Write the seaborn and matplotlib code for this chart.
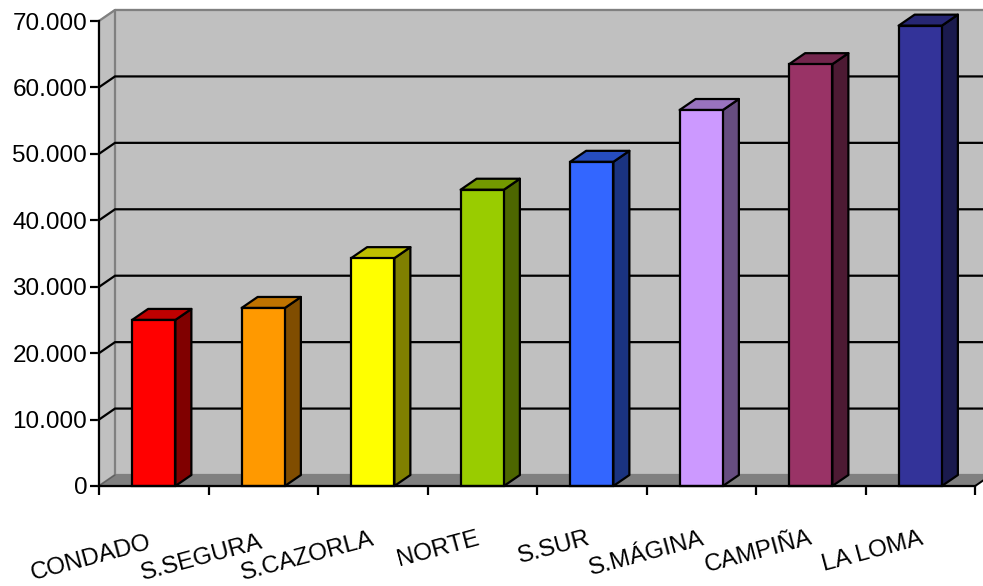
import matplotlib

matplotlib.use("Agg")
import matplotlib.pyplot as plt
from matplotlib.colors import to_rgb
from matplotlib.patches import Polygon
import seaborn as sns

comarcas = ["CONDADO", "S.SEGURA", "S.CAZORLA", "NORTE", "S.SUR", "S.MÁGINA", "CAMPIÑA", "LA LOMA"]
valores = [25000, 26800, 34300, 44600, 48800, 56600, 63500, 69300]
colores = ["#FF0000", "#FF9900", "#FFFF00", "#99CC00", "#3366FF", "#CC99FF", "#993366", "#333399"]
y_ticks = [0, 10000, 20000, 30000, 40000, 50000, 60000, 70000]
y_labels = ["0", "10.000", "20.000", "30.000", "40.000", "50.000", "60.000", "70.000"]

# pixel centre of each rotated label, they are staggered in the original
label_pos = [(91, 558), (202, 558), (308, 556), (438, 549), (554, 548), (647, 554), (759, 552), (872, 552)]

W, H = 983, 586
LEFT, RIGHT, BOTTOM, TOP = 99, 975, 486, 21

sns.set_style("white")
plt.rcParams["font.family"] = ["Liberation Sans", "DejaVu Sans"]

fig = plt.figure(figsize=(W / 100, H / 100), dpi=100, facecolor="white")
ax = fig.add_axes([LEFT / W, 1 - BOTTOM / H, (RIGHT - LEFT) / W, (BOTTOM - TOP) / H])
ax.set_facecolor("none")

sns.barplot(
    x=comarcas,
    y=valores,
    hue=comarcas,
    palette=colores,
    width=0.395,
    saturation=1,
    edgecolor="black",
    linewidth=1.6,
    legend=False,
    zorder=4,
    ax=ax,
)

ax.set_xlim(-0.5, 7.5)
ax.set_ylim(0, 70000)

# depth of the fake 3d, in data units (16px right, 11px up)
dx = 16 / ((RIGHT - LEFT) / 8)
dy = 11 / ((BOTTOM - TOP) / 70000)
x0, x1 = -0.5, 7.5
y1 = 70000
wall = "#C0C0C0"
dark = "#808080"


def face(points, color, edge=None, z=1, lw=1.6):
    ax.add_patch(Polygon(points, closed=True, facecolor=color, edgecolor=edge or color,
                         linewidth=lw, zorder=z, clip_on=False, joinstyle="round"))


# back wall, left wall, floor
face([(x0 + dx, dy), (x1 + dx, dy), (x1 + dx, y1 + dy), (x0 + dx, y1 + dy)], wall, z=0.5)
face([(x0, 0), (x0 + dx, dy), (x0 + dx, y1 + dy), (x0, y1)], wall, z=0.6)
face([(x0, 0), (x1, 0), (x1 + dx, dy), (x0 + dx, dy)], dark, z=0.7)
ax.plot([x0, x0 + dx, x0 + dx], [y1, y1 + dy, dy], color=dark, lw=1.6, zorder=1, clip_on=False)
ax.plot([x0 + dx, x1 + dx], [y1 + dy, y1 + dy], color=dark, lw=1.6, zorder=1, clip_on=False)
ax.plot([x0, x0 + dx], [0, dy], color="#606060", lw=1, zorder=1, clip_on=False)
ax.plot([x1, x1 + dx], [0, dy], color="black", lw=1.3, zorder=1, clip_on=False)

# gridlines run along the left wall then the back wall
for v in y_ticks[1:-1]:
    ax.plot([x0, x0 + dx, x1 + dx], [v, v + dy, v + dy], color="black", lw=1.6,
            zorder=2, clip_on=False, solid_joinstyle="miter")

# side and top faces for each bar
for bar, c in zip(ax.patches[:len(valores)], colores):
    xa, xb = bar.get_x(), bar.get_x() + bar.get_width()
    h = bar.get_height()
    rgb = to_rgb(c)
    side = tuple(v * 0.5 for v in rgb)
    top = tuple(v * 0.75 for v in rgb)
    face([(xb, 0), (xb + dx, dy), (xb + dx, h + dy), (xb, h)], side, "black", z=3)
    face([(xa, h), (xb, h), (xb + dx, h + dy), (xa + dx, h + dy)], top, "black", z=3)
    bar.set_clip_on(False)

for s in ["top", "right"]:
    ax.spines[s].set_visible(False)
for s in ["left", "bottom"]:
    ax.spines[s].set_color("black")
    ax.spines[s].set_linewidth(1.6)
    ax.spines[s].set_zorder(5)

ax.set_yticks(y_ticks)
ax.set_yticklabels(y_labels, fontsize=17.5, color="black")
ax.set_xticks([i - 0.5 for i in range(9)])
ax.set_xticklabels([])
ax.tick_params(axis="both", length=6.5, width=1.6, color="black", left=True, bottom=True)
ax.tick_params(axis="y", pad=2)
ax.set_xlabel("")

for name, (px, py) in zip(comarcas, label_pos):
    fig.text(px / W, 1 - py / H, name, fontsize=17.5, rotation=15, ha="center", va="center",
             color="black", rotation_mode="anchor")

fig.savefig("out.png", dpi=100, facecolor="white")
plt.close(fig)
